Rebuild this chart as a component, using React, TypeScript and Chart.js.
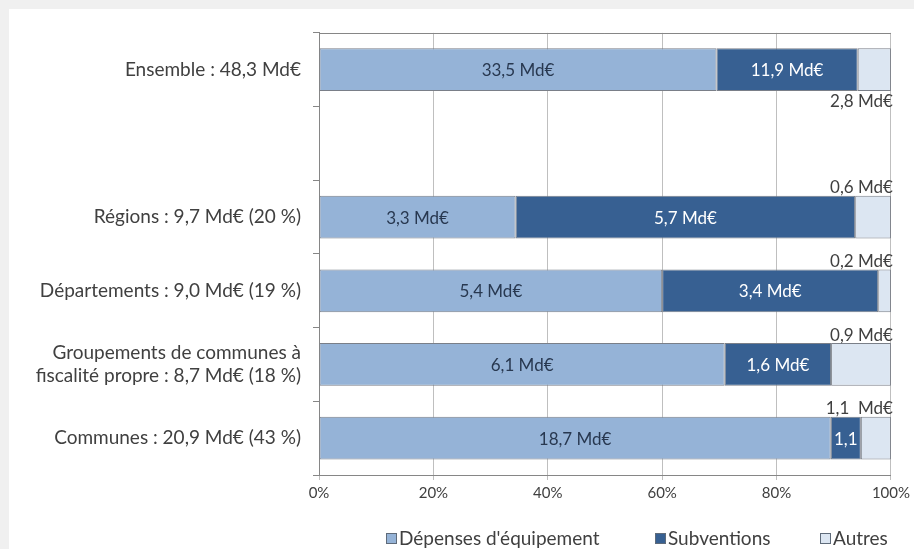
import React, { useEffect, useRef } from 'react';
import { Chart, registerables } from 'chart.js';

Chart.register(...registerables);

const categories: (string | string[])[] = [
  'Ensemble : 48,3 Md€',
  '',
  'Régions : 9,7 Md€ (20 %)',
  'Départements : 9,0 Md€ (19 %)',
  ['Groupements de communes à', 'fiscalité propre : 8,7 Md€ (18 %)'],
  'Communes : 20,9 Md€ (43 %)',
];
const seriesNames = ["Dépenses d'équipement", 'Subventions', 'Autres'];
const depenses: (number | null)[] = [33.5, null, 3.3, 5.4, 6.1, 18.7];
const subventions: (number | null)[] = [11.9, null, 5.7, 3.4, 1.6, 1.1];
const autres: (number | null)[] = [2.8, null, 0.6, 0.2, 0.9, 1.1];
const depensesLabels = ['33,5 Md€', '', '3,3 Md€', '5,4 Md€', '6,1 Md€', '18,7 Md€'];
const subventionsLabels = ['11,9 Md€', '', '5,7 Md€', '3,4 Md€', '1,6 Md€', '1,1'];
const autresLabels = ['2,8 Md€', '', '0,6 Md€', '0,2 Md€', '0,9 Md€', '1,1  Md€'];
const xTickValues = [0, 20, 40, 60, 80, 100];

const COLORS = ['#95b3d7', '#376092', '#dce6f2'];
const FONT = 'Lato';
const LEGEND_X = [377, 646, 811];

function share(arr: (number | null)[], i: number): number | null {
  const v = arr[i];
  if (v == null) return null;
  const total = (depenses[i] || 0) + (subventions[i] || 0) + (autres[i] || 0);
  return (v / total) * 100;
}

const labelPlugin = {
  id: 'customDraw',
  afterDatasetsDraw(chart: any) {
    const { ctx, chartArea } = chart;
    ctx.save();
    // top border of plot area
    ctx.strokeStyle = '#868686';
    ctx.lineWidth = 1;
    ctx.beginPath();
    ctx.moveTo(chartArea.left, Math.round(chartArea.top) + 0.5);
    ctx.lineTo(chartArea.right, Math.round(chartArea.top) + 0.5);
    ctx.stroke();

    const labelSets = [depensesLabels, subventionsLabels, autresLabels];
    const colors = ['#283850', '#ffffff', '#404040'];
    ctx.font = `17px ${FONT}`;
    ctx.textBaseline = 'middle';
    for (let d = 0; d < 3; d++) {
      const meta = chart.getDatasetMeta(d);
      meta.data.forEach((el: any, i: number) => {
        const txt = labelSets[d][i];
        if (!txt) return;
        ctx.fillStyle = colors[d];
        if (d < 2) {
          ctx.textAlign = 'center';
          ctx.fillText(txt, (el.x + el.base) / 2, el.y + 1);
        } else {
          ctx.textAlign = 'right';
          const below = i === 0;
          const y = below ? el.y + el.height / 2 + 10 : el.y - el.height / 2 - 8;
          ctx.fillText(txt, chartArea.right + 2, y);
        }
      });
    }

    // legend
    ctx.font = `19px ${FONT}`;
    ctx.textAlign = 'left';
    const y = 529;
    seriesNames.forEach((name, k) => {
      const x = LEGEND_X[k];
      ctx.fillStyle = COLORS[k];
      ctx.fillRect(x, y - 5, 11, 11);
      ctx.strokeStyle = '#5f6b7a';
      ctx.strokeRect(x + 0.5, y - 4.5, 10, 10);
      ctx.fillStyle = '#404040';
      ctx.fillText(name, x + 13, y + 1);
    });
    ctx.restore();
  },
};

export default function App() {
  const ref = useRef<HTMLCanvasElement | null>(null);
  useEffect(() => {
    document.body.style.margin = '0';
    document.body.style.background = '#f0f0f0';
    const ds = [depenses, subventions, autres].map((arr, k) => ({
      label: seriesNames[k],
      data: categories.map((_, i) => share(arr, i)),
      backgroundColor: COLORS[k],
      borderColor: '#7a7f88',
      borderWidth: 1,
      borderSkipped: false,
      barPercentage: 0.58,
      categoryPercentage: 1,
    }));
    const chart = new Chart(ref.current as HTMLCanvasElement, {
      type: 'bar',
      data: { labels: categories as any, datasets: ds as any },
      options: {
        indexAxis: 'y',
        responsive: false,
        animation: false,
        events: [],
        layout: { padding: { left: 0, top: 23, right: 8, bottom: 43 } },
        plugins: { legend: { display: false }, tooltip: { enabled: false } },
        scales: {
          x: {
            stacked: true,
            min: 0,
            max: 100,
            afterBuildTicks: (scale: any) => {
              scale.ticks = xTickValues.map((v) => ({ value: v }));
            },
            ticks: {
              callback: (v: any) => `${v}%`,
              color: '#404040',
              font: { family: FONT, size: 15 },
              padding: 4,
            },
            grid: { color: '#bfbfbf', tickLength: 5 },
            border: { color: '#868686' },
          },
          y: {
            stacked: true,
            afterFit: (scale: any) => {
              scale.width = 310;
            },
            ticks: {
              color: '#404040',
              font: { family: FONT, size: 19, lineHeight: 1.25 },
              padding: 12,
            },
            grid: { drawOnChartArea: false, tickLength: 6, color: '#868686' },
            border: { color: '#868686' },
          },
        },
      },
      plugins: [labelPlugin],
    });
    return () => chart.destroy();
  }, []);
  return (
    <div style={{ position: 'absolute', left: 9, top: 9, width: 905, height: 540, background: '#ffffff' }}>
      <canvas ref={ref} width={905} height={540} style={{ display: 'block' }} />
    </div>
  );
}
